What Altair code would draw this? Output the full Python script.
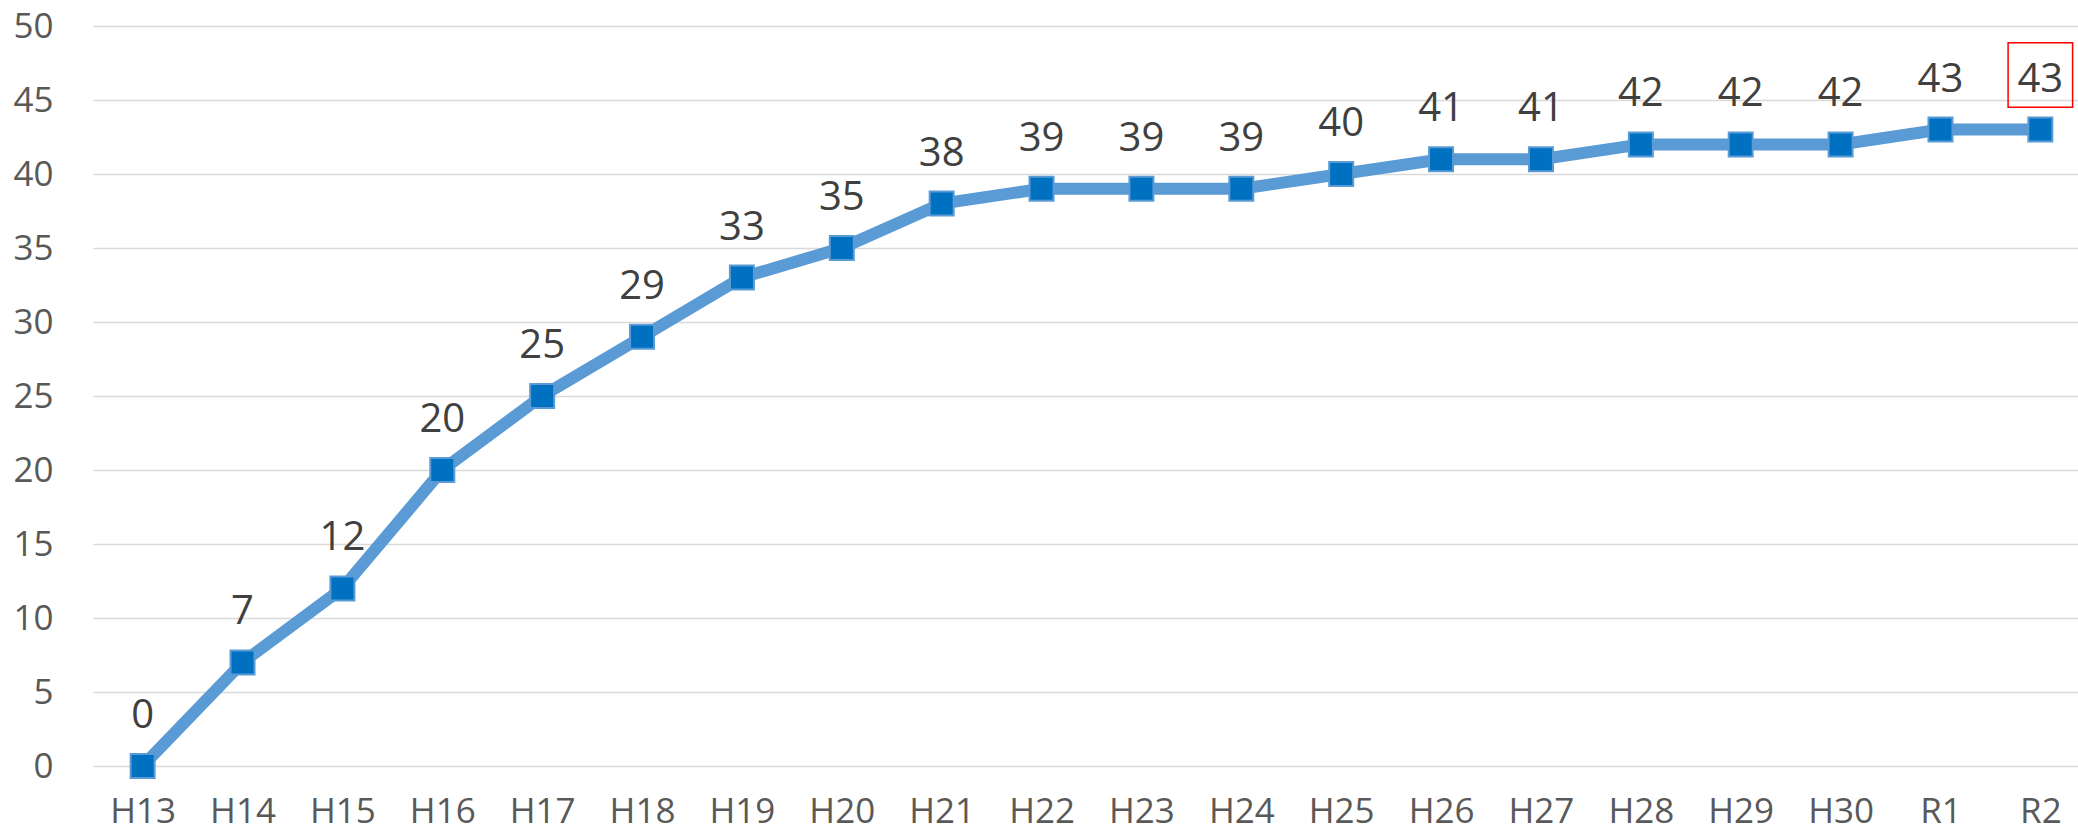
import altair as alt
import pandas as pd

categories = ["H13", "H14", "H15", "H16", "H17", "H18", "H19", "H20", "H21", "H22",
              "H23", "H24", "H25", "H26", "H27", "H28", "H29", "H30", "R1", "R2"]
values = [0, 7, 12, 20, 25, 29, 33, 35, 38, 39, 39, 39, 40, 41, 41, 42, 42, 42, 43, 43]
y_ticks = [0, 5, 10, 15, 20, 25, 30, 35, 40, 45, 50]

df = pd.DataFrame({"idx": list(range(len(categories))), "cat": categories, "value": values})
highlight = df.tail(1)

FONT = "Open Sans"
label_expr = "[" + ",".join("'" + c + "'" for c in categories) + "][datum.value]"

x_enc = alt.X("idx:Q",
              scale=alt.Scale(domain=[-0.497, 19.377], nice=False, zero=False),
              axis=alt.Axis(values=list(range(len(categories))), labelExpr=label_expr,
                            grid=False, domain=False, ticks=False, tickSize=0,
                            labelPadding=28, labelFontSize=35, labelFont=FONT,
                            labelColor="#595959", title=None, labelFlush=False))
y_enc = alt.Y("value:Q",
              scale=alt.Scale(domain=[0, 50], nice=False),
              axis=alt.Axis(values=y_ticks, grid=True, gridColor="#D9D9D9", gridWidth=1.3,
                            domain=False, ticks=False, tickSize=0, labelPadding=40,
                            labelFontSize=35, labelFont=FONT, labelColor="#595959",
                            title=None, labelBaseline="middle"))

base = alt.Chart(df)

line = base.mark_line(color="#5B9BD5", strokeWidth=12).encode(x=x_enc, y=y_enc)
points = base.mark_point(shape="square", size=576, filled=True, fill="#0070C0",
                         stroke="#5B9BD5", strokeWidth=2, opacity=1).encode(x="idx:Q", y="value:Q")
labels = base.mark_text(fontSize=40, font=FONT, color="#404040", baseline="alphabetic",
                        align="center", dy=-38).encode(x="idx:Q", y="value:Q", text="value:Q")
box = alt.Chart(highlight).mark_point(shape="square", size=4160, filled=False,
                                      stroke="#FF0000", strokeWidth=1.5, opacity=1,
                                      yOffset=-54.5).encode(x="idx:Q", y="value:Q")

chart = alt.layer(line, points, labels, box).properties(
    width=1985, height=740,
    autosize=alt.AutoSizeParams(type="none"),
    padding={"left": 93, "top": 26, "right": 0, "bottom": 69},
    background="white",
).configure_view(stroke=None)

chart.save("out.html", embed_options={"renderer": "svg", "actions": False})
